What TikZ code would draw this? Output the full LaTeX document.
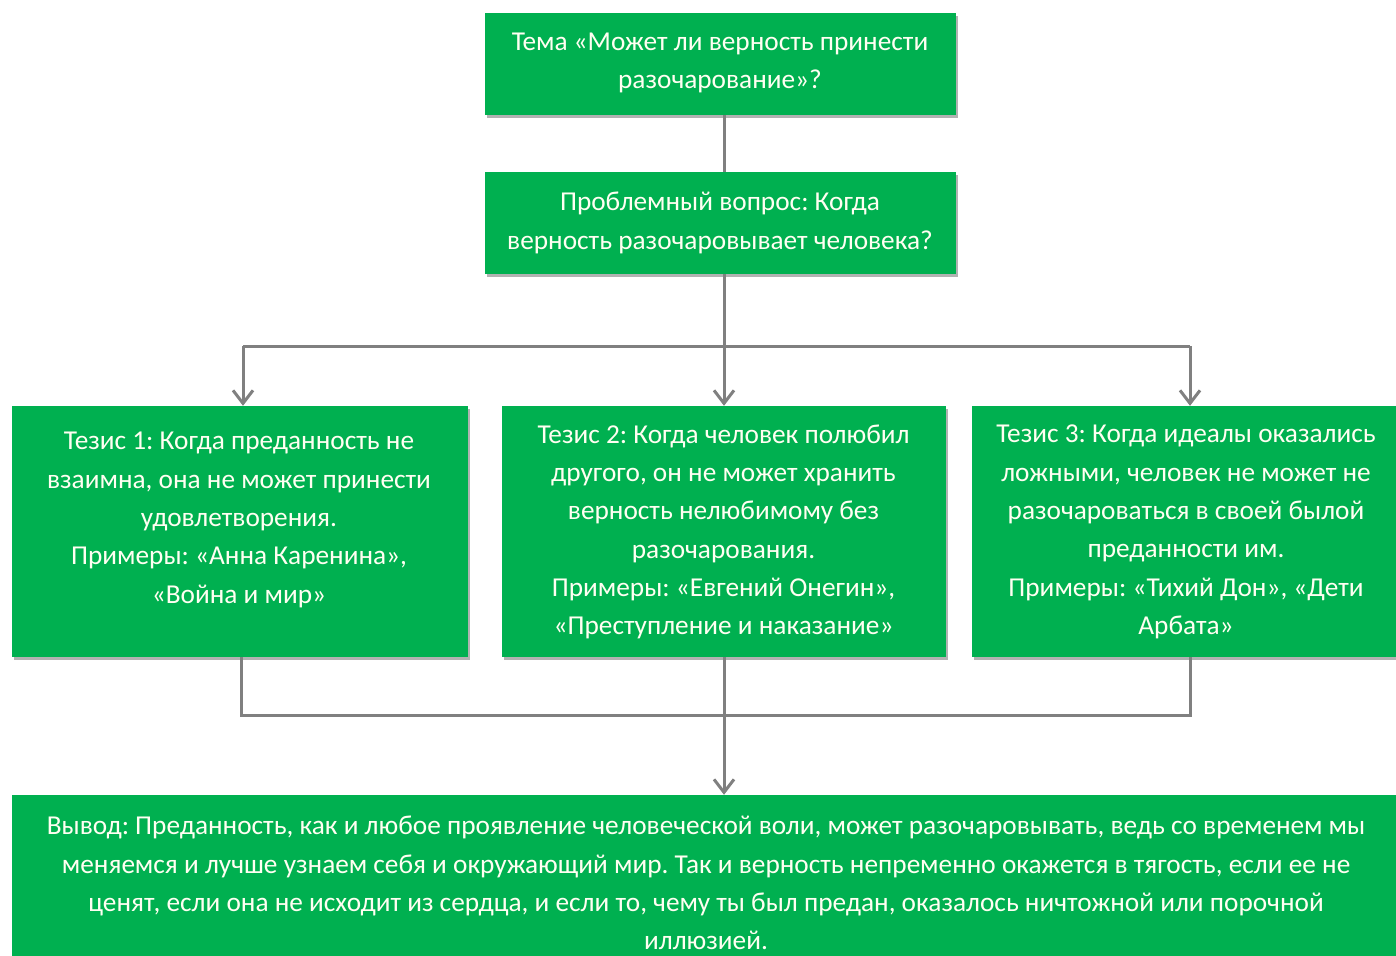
\documentclass[tikz,border=0pt]{standalone}
\usepackage{fontspec}
\setmainfont{Carlito}
\usetikzlibrary{arrows.meta,shadows}
\definecolor{grn}{HTML}{00B050}
\definecolor{ln}{HTML}{808080}
\definecolor{txtc}{HTML}{FFFFF2}
\frenchspacing
\begin{document}
\begin{tikzpicture}[x=1pt,y=-1pt,
  box/.style={fill=grn, draw=none, inner sep=0pt,
    drop shadow={shadow xshift=1.5pt, shadow yshift=-3pt, fill=black, opacity=0.3}},
  txt/.style={text=txtc, align=center, inner sep=0pt, font=\fontsize{27.3}{38.3}\selectfont},
  conn/.style={draw=ln, line width=3pt},
  arr/.style={conn, -{Straight Barb[length=13pt,width=20pt]}}]
\useasboundingbox (0,0) rectangle (1396,955);
\fill[white] (0,0) rectangle (1396,955);
% boxes
\node[box, minimum width=471pt, minimum height=102pt] (top) at (720.5,64) {};
\node[box, minimum width=471pt, minimum height=102pt] (q) at (720.5,223) {};
\node[box, minimum width=456pt, minimum height=251pt] (t1) at (240,531.5) {};
\node[box, minimum width=444pt, minimum height=251pt] (t2) at (724,531.5) {};
\node[box, minimum width=428pt, minimum height=251pt] (t3) at (1186,531.5) {};
\node[box, minimum width=1388pt, minimum height=170pt] (concl) at (706,880) {};
% texts
\node[txt] (top-t) at (720,63) {Тема «Может ли верность принести\\разочарование»?};
\node[txt] (q-t) at (720,223) {Проблемный вопрос: Когда\\верность разочаровывает человека?};
\node[txt] (t1-t) at (239,520) {Тезис 1: Когда преданность не\\взаимна, она не может принести\\удовлетворения.\\Примеры: «Анна Каренина»,\\«Война и мир»};
\node[txt] (t2-t) at (723.5,532) {Тезис 2: Когда человек полюбил\\другого, он не может хранить\\верность нелюбимому без\\разочарования.\\Примеры: «Евгений Онегин»,\\«Преступление и наказание»};
\node[txt] (t3-t) at (1186,532) {Тезис 3: Когда идеалы оказались\\ложными, человек не может не\\разочароваться в своей былой\\преданности им.\\Примеры: «Тихий Дон», «Дети\\Арбата»};
\node[txt] (concl-t) at (706,883) {Вывод: Преданность, как и любое проявление человеческой воли, может разочаровывать, ведь со временем мы\\меняемся и лучше узнаем себя и окружающий мир. Так и верность непременно окажется в тягость, если ее не\\ценят, если она не исходит из сердца, и если то, чему ты был предан, оказалось ничтожной или порочной\\иллюзией.};
% connectors
\coordinate (bus) at (724,346);
\coordinate (busL) at (243,346);
\coordinate (busR) at (1190,346);
\coordinate (joinL) at (241,715);
\coordinate (joinR) at (1190,715);
\draw[conn] (top.south -| t2.north) -- (q.north -| t2.north);
\draw[conn] (q.south -| t2.north) -- (bus);
\draw[conn] (busL) -- (busR);
\draw[arr] (busL) -- (t1.north -| busL);
\draw[arr] (bus) -- (t2.north);
\draw[arr] (busR) -- (t3.north -| busR);
\draw[conn] (t1.south -| joinL) -- (joinL) -- (joinR) -- (t3.south -| joinR);
\draw[arr] (t2.south) -- (concl.north -| t2.south);
\end{tikzpicture}
\end{document}
